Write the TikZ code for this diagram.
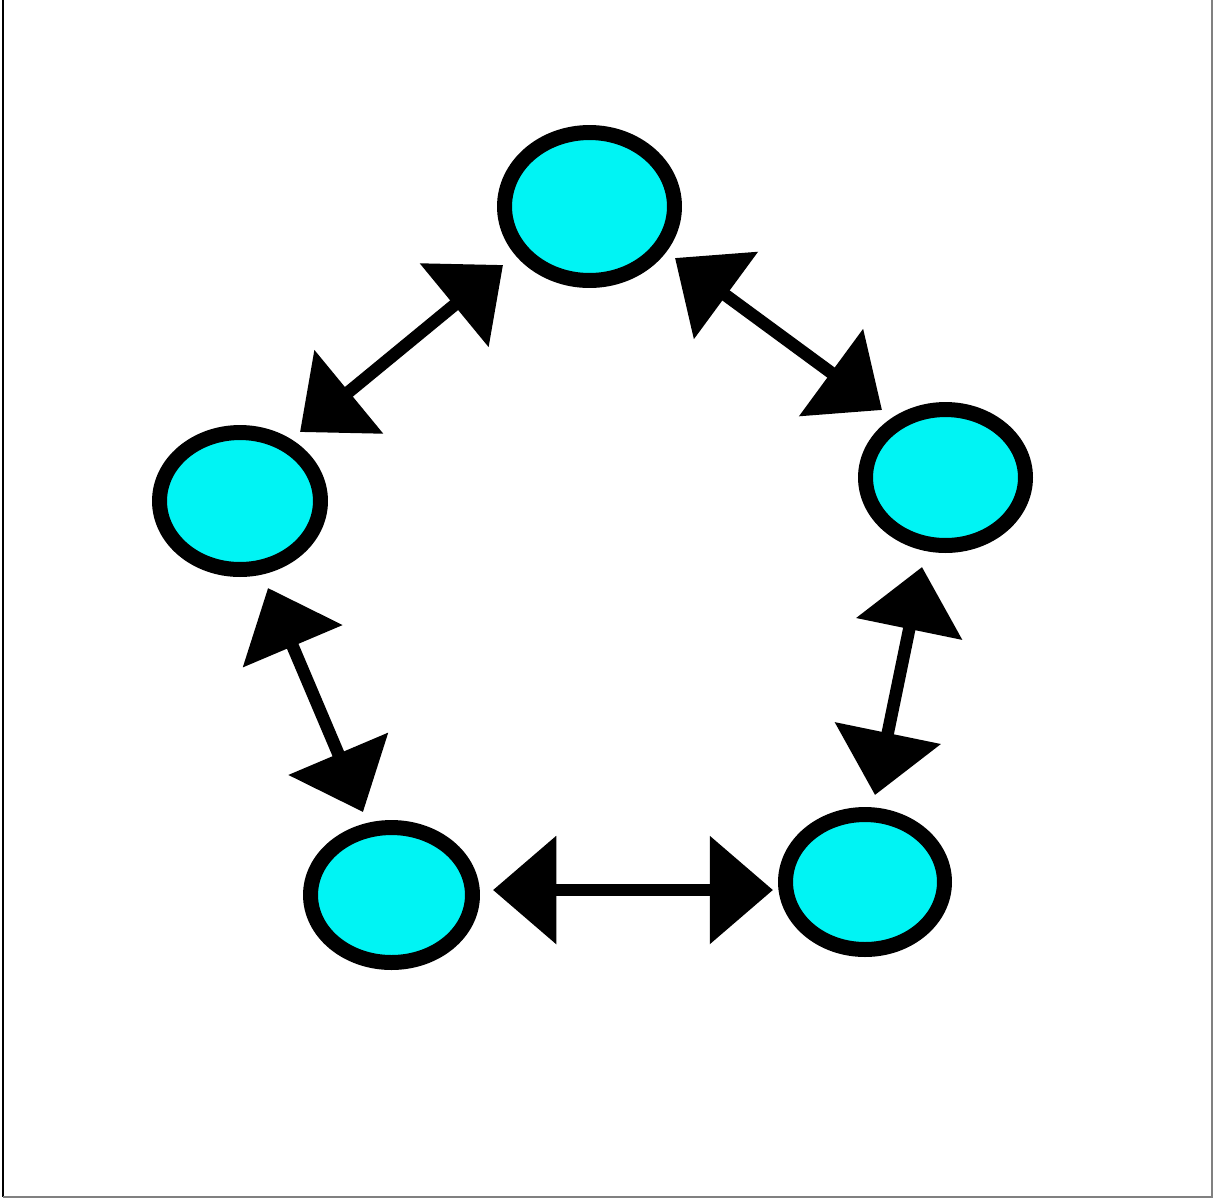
\documentclass[tikz,border=0pt]{standalone}
\usetikzlibrary{shapes.geometric,arrows.meta,calc}
\definecolor{nodefill}{RGB}{0,244,244}
\tikzset{
  peer/.style={ellipse, draw=black, fill=nodefill, line width=0.30cm, inner sep=0pt},
  biarrow/.style={line width=0.25cm, {Triangle[length=36pt,width=60pt]}-{Triangle[length=36pt,width=60pt]}},
}
\begin{document}
\begin{tikzpicture}[x=0.02cm,y=-0.02cm]
\useasboundingbox (0,0) rectangle (1213,1198);
\fill[white] (0,0) rectangle (1213,1198);
\draw[black, line width=0.04cm] (3,0) -- (3,1197);
\draw[gray, line width=0.03cm] (3,1197) -- (1212,1197) -- (1212,0);
\node[peer, minimum width=3.40cm, minimum height=2.96cm] (top) at (589.5,206.5) {};
\node[peer, minimum width=3.22cm, minimum height=2.74cm] (left) at (240,501) {};
\node[peer, minimum width=3.20cm, minimum height=2.72cm] (right) at (945.5,477.5) {};
\node[peer, minimum width=3.24cm, minimum height=2.70cm] (bl) at (391.5,895) {};
\node[peer, minimum width=3.18cm, minimum height=2.70cm] (br) at (865,882) {};
\draw[biarrow] ($(left.center)+(60,-69)$) -- ($(top.center)+(-86.5,58.5)$);
\draw[biarrow] ($(top.center)+(85.5,51.5)$) -- ($(right.center)+(-63.5,-67.5)$);
\draw[biarrow] ($(left.center)+(28,87)$) -- ($(bl.center)+(-28.5,-83)$);
\draw[biarrow] ($(right.center)+(-23.5,89.5)$) -- ($(br.center)+(10,-87)$);
\draw[biarrow] ($(bl.center)+(101.5,-5)$) -- ($(br.center)+(-92,8)$);
\end{tikzpicture}
\end{document}
